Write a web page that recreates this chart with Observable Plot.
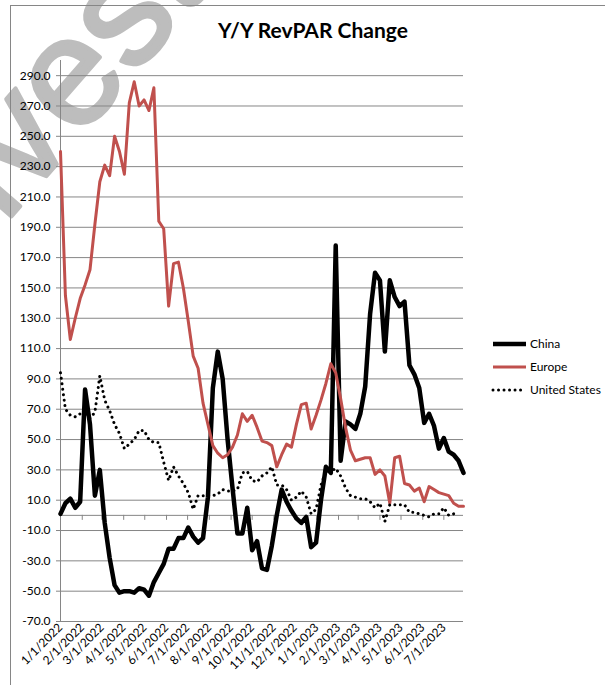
<!DOCTYPE html>
<html><head><meta charset="utf-8">
<script src="https://cdn.jsdelivr.net/npm/d3@7"></script>
<script src="https://cdn.jsdelivr.net/npm/@observablehq/plot@0.6"></script>
<style>
html,body{margin:0;padding:0;background:#fff;}
#wrap{position:relative;width:605px;height:685px;overflow:hidden;font-family:Lato,sans-serif;}
#wm{position:absolute;left:0;top:0;}
#frame{position:absolute;left:10px;top:5px;width:800px;height:900px;border-left:1px solid #868686;border-top:1px solid #868686;}
#chart{position:absolute;left:0;top:0;}
#title{position:absolute;left:163px;width:300px;top:17px;text-align:center;font-weight:bold;font-size:21px;line-height:25px;color:#000;}
#legend{position:absolute;left:488px;top:330px;}
</style>
</head><body>
<div id="wrap">
  <svg id="wm" width="605" height="685"><text id="wmt" font-family="Liberation Sans" font-size="153" fill="#bdbdbd" stroke="#bdbdbd" stroke-width="4" stroke-linejoin="round">Investing.com</text></svg>
  <div id="frame"></div>
  <div id="chart"></div>
  <div id="title">Y/Y RevPAR Change</div>
  <div id="legend"></div>
</div>
<script>
// ---- data ----
const startDate = "2022-01-01"; // weekly series, Saturdays
const seriesNames = ["China", "Europe", "United States"];
const china = [1, 8, 11, 5, 9, 83, 60, 13, 30, -5, -28, -46, -51, -50, -50, -51, -48, -49, -53, -44, -38, -32, -22, -22, -15, -15, -8, -14, -18, -15, 12, 84, 108, 90, 50, 18, -12, -12, 5, -23, -17, -35, -36, -20, 0, 17, 9, 3, -2, -5, -1, -21, -18, 10, 32, 28, 178, 36, 62, 60, 57, 67, 85, 133, 160, 155, 108, 155, 144, 138, 141, 99, 93, 84, 61, 67, 59, 44, 51, 42, 40, 36, 28];
const europe = [240, 145, 116, 130, 143, 152, 162, 192, 220, 231, 224, 250, 240, 225, 272, 286, 270, 274, 267, 282, 194, 189, 138, 166, 167, 150, 128, 105, 97, 74, 60, 46, 41, 38, 40, 45, 53, 67, 62, 66, 58, 49, 48, 46, 32, 40, 47, 45, 60, 73, 74, 57, 66, 76, 87, 100, 94, 77, 58, 43, 36, 37, 38, 38, 27, 30, 26, 8, 38, 39, 21, 20, 16, 18, 9, 19, 17, 15, 14, 13, 8, 6, 6];
const us = [94, 70, 66, 65, 67, 66, 64, 68, 92, 76, 69, 60, 54, 44, 47, 50, 56, 56, 50, 48, 48, 35, 23, 32, 26, 21, 15, 4, 13, 13, 13, 13, 14, 17, 16, 16, 17, 28, 29, 23, 22, 26, 28, 32, 20, 20, 17, 10, 12, 16, 12, 1, 4, 20, 29, 29, 31, 26, 18, 13, 12, 11, 11, 9, 5, 8, -4, 7, 7, 7, 7, 2, 2, 1, 0, -1, 1, 1, 5, 0, 1, 2, null];
const yTicks = [-70, -50, -30, -10, 10, 30, 50, 70, 90, 110, 130, 150, 170, 190, 210, 230, 250, 270, 290];
const xTickLabels = ["1/1/2022","2/1/2022","3/1/2022","4/1/2022","5/1/2022","6/1/2022","7/1/2022","8/1/2022","9/1/2022","10/1/2022","11/1/2022","12/1/2022","1/1/2023","2/1/2023","3/1/2023","4/1/2023","5/1/2023","6/1/2023","7/1/2023"];

// ---- build ----
const parse = d3.utcParse("%m/%d/%Y");
const t0 = d3.utcParse("%Y-%m-%d")(startDate);
const dates = china.map((_, i) => d3.utcDay.offset(t0, 7 * i));
const rows = dates.map((date, i) => ({date, china: china[i], europe: europe[i], us: us[i]}));
const monthTicks = xTickLabels.map(parse);
const fmt = d3.utcFormat("%-m/%-d/%Y");
const grid = "#868686";

const chart = Plot.plot({
  width: 605, height: 685,
  marginLeft: 60, marginRight: 142, marginTop: 60, marginBottom: 64,
  style: {background: "transparent", fontFamily: "Lato, sans-serif", fontSize: "12px", color: "#000", overflow: "visible"},
  x: {type: "utc", domain: [dates[0], dates[dates.length - 1]]},
  y: {domain: [-70, 300]},
  marks: [
    Plot.ruleY(yTicks, {stroke: grid, strokeWidth: 1, insetLeft: -4}),
    Plot.ruleY([0], {stroke: grid, strokeWidth: 1}),
    Plot.ruleX(monthTicks, {x: d => d, y1: 0, y2: 0, insetBottom: -5, stroke: grid}),
    Plot.ruleX([dates[0]], {y1: -70, y2: 300, stroke: grid}),
    Plot.axisY(yTicks, {tickSize: 0, tickPadding: 10, tickFormat: d => d.toFixed(1), label: null, fill: "#000"}),
    Plot.axisX(monthTicks, {tickSize: 0, tickPadding: 4, tickRotate: -45, tickFormat: fmt, label: null, fill: "#000"}),
    Plot.line(rows, {x: "date", y: "china", stroke: "#000", strokeWidth: 4.5}),
    Plot.line(rows, {x: "date", y: "europe", stroke: "#C0504D", strokeWidth: 3}),
    Plot.line(rows, {x: "date", y: "us", stroke: "#000", strokeWidth: 3, strokeDasharray: "0.01 5.5", strokeLinecap: "round"})
  ]
});
document.getElementById("chart").appendChild(chart);

// watermark
d3.select("#wmt").attr("transform", "translate(-57,295) rotate(-49)");

// legend
const lg = d3.select("#legend").append("svg").attr("width", 117).attr("height", 75);
const styles = [
  {stroke: "#000", w: 4.5, dash: null},
  {stroke: "#C0504D", w: 3, dash: null},
  {stroke: "#000", w: 3, dash: "0.01 5.5"}
];
seriesNames.forEach((name, i) => {
  const y = 14 + i * 23;
  lg.append("line").attr("x1", 5).attr("x2", 38).attr("y1", y).attr("y2", y)
    .attr("stroke", styles[i].stroke).attr("stroke-width", styles[i].w)
    .attr("stroke-dasharray", styles[i].dash).attr("stroke-linecap", styles[i].dash ? "round" : "butt");
  lg.append("text").attr("x", 42).attr("y", y + 4).attr("font-family", "Lato, sans-serif")
    .attr("font-size", 12).attr("fill", "#000").text(name);
});
</script>
</body></html>
